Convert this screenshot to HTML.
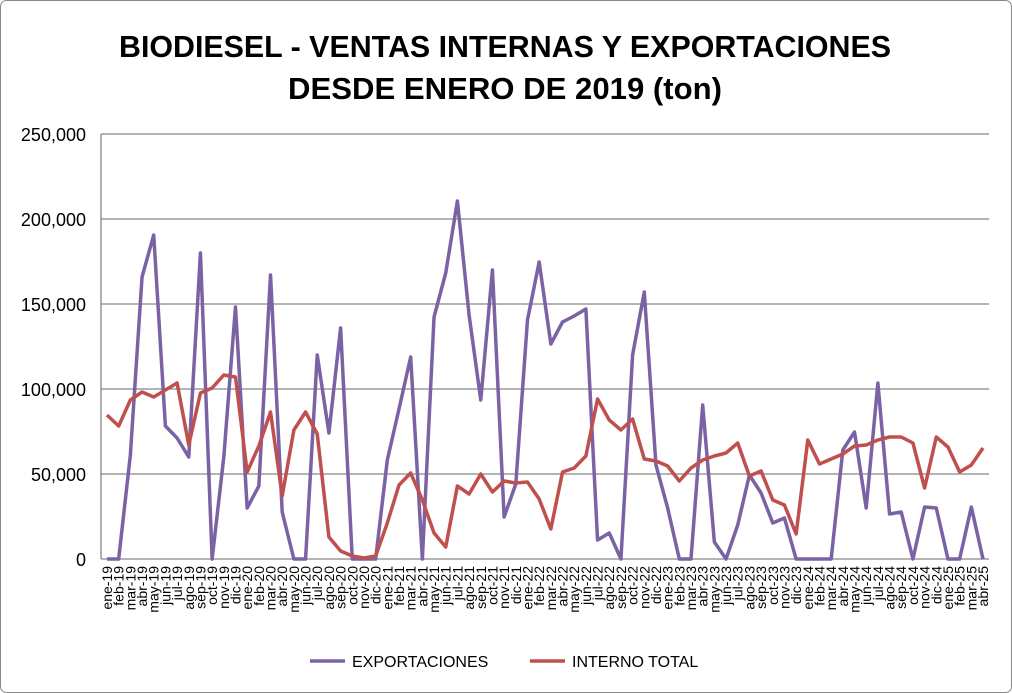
<!DOCTYPE html>
<html><head><meta charset="utf-8"><style>
body{margin:0;background:#fff}
svg{display:block;font-family:"Liberation Sans",sans-serif}
</style></head><body>
<svg width="1012" height="693" viewBox="0 0 1012 693">
<rect x="0.5" y="0.5" width="1011" height="692" rx="6" fill="#fff" stroke="#888"/>
<text x="505" y="57" text-anchor="middle" font-size="31" font-weight="bold" textLength="772" lengthAdjust="spacingAndGlyphs">BIODIESEL - VENTAS INTERNAS Y EXPORTACIONES</text>
<text x="505" y="99" text-anchor="middle" font-size="31" font-weight="bold" textLength="434" lengthAdjust="spacingAndGlyphs">DESDE ENERO DE 2019 (ton)</text>
<g stroke="#868686" stroke-width="1.3">
<line x1="101" y1="134" x2="989" y2="134"/><line x1="101" y1="219" x2="989" y2="219"/>
<line x1="101" y1="304" x2="989" y2="304"/><line x1="101" y1="389" x2="989" y2="389"/>
<line x1="101" y1="474" x2="989" y2="474"/><line x1="101" y1="559" x2="989" y2="559"/>
<line x1="101" y1="134" x2="101" y2="559"/>
</g>
<g font-size="18" text-anchor="end">
<text x="86" y="141">250,000</text><text x="86" y="226">200,000</text><text x="86" y="311">150,000</text>
<text x="86" y="396">100,000</text><text x="86" y="481">50,000</text><text x="86" y="566">0</text>
</g>
<g id="xl" font-size="14" text-anchor="end"></g>
<polyline id="pe" fill="none" stroke="#7b62a4" stroke-width="3.5" stroke-linejoin="round"/>
<polyline id="pi" fill="none" stroke="#c0504d" stroke-width="3.5" stroke-linejoin="round"/>
<line x1="310" y1="661" x2="345" y2="661" stroke="#7b62a4" stroke-width="3.5"/>
<text x="352" y="667" font-size="16">EXPORTACIONES</text>
<line x1="530" y1="661" x2="565" y2="661" stroke="#c0504d" stroke-width="3.5"/>
<text x="572" y="667" font-size="16">INTERNO TOTAL</text>
</svg>
<script>
var E=[559,559,455,277,235,426,438,457,253,559,457,307,508,486,275,512,559,559,355,433,328,559,559,559,460,409,357,559,317,273,201,315,400,270,517,484,320,262,344,322,316,309,540,533,559,355,292,465,508,559,559,405,542,559,525,475,493,523,518,559,559,559,559,450,432,508,383,514,512,559,507,508,559,559,507,559];
var I=[415,426,400,392,397,390,383,445,393,388,375,377,472,446,412,496,430,412,434,537,551,556,558,556,523,485,473,500,533,547,486,494,474,492,481,483,482,499,529,472,468,456,399,420,430,419,459,461,466,481,468,460,456,453,443,476,471,500,505,534,440,464,459,454,446,445,440,437,437,443,488,437,447,472,465,448];
var m=["ene","feb","mar","abr","may","jun","jul","ago","sep","oct","nov","dic"];
function X(i){return 107+i*11.68}
document.getElementById('pe').setAttribute('points',E.map((y,i)=>X(i)+','+y).join(' '));
document.getElementById('pi').setAttribute('points',I.map((y,i)=>X(i)+','+y).join(' '));
var g=document.getElementById('xl'),h='';
for(var i=0;i<76;i++){var x=X(i)+5;h+='<text transform="translate('+x+',566) rotate(-90)">'+m[i%12]+'-'+(19+Math.floor(i/12))+'</text>';}
g.innerHTML=h;
</script>
</body></html>
